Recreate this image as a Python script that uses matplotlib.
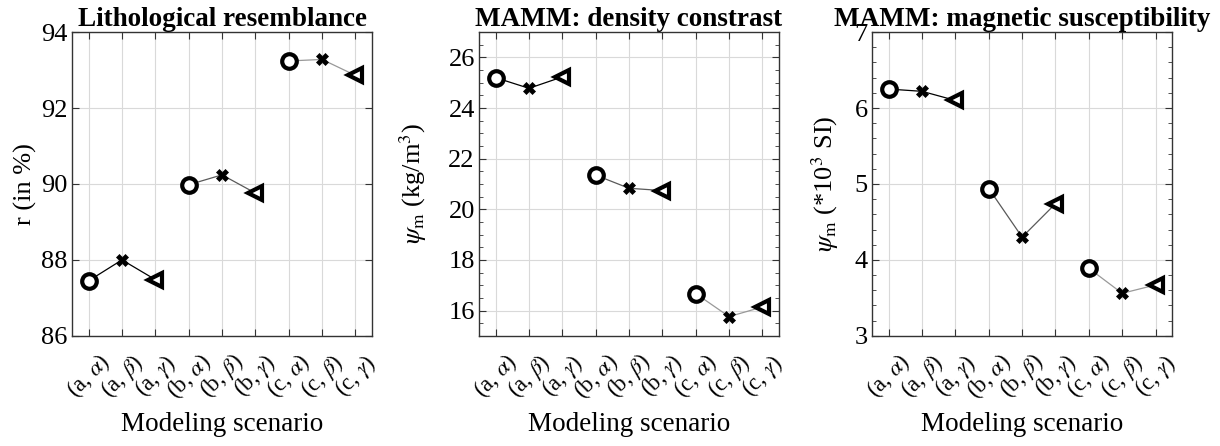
import matplotlib
matplotlib.use('Agg')
import matplotlib.pyplot as plt
import matplotlib.transforms as mtransforms
import numpy as np

plt.rcParams['font.family'] = ['Liberation Serif', 'DejaVu Serif']
plt.rcParams['mathtext.fontset'] = 'stix'

scenarios = [r'(a, $\alpha$)', r'(a, $\beta$)', r'(a, $\gamma$)',
             r'(b, $\alpha$)', r'(b, $\beta$)', r'(b, $\gamma$)',
             r'(c, $\alpha$)', r'(c, $\beta$)', r'(c, $\gamma$)']

resemblance = [87.45, 88.0, 87.48, 89.98, 90.24, 89.76, 93.24, 93.28, 92.86]
density = [25.2, 24.78, 25.23, 21.35, 20.83, 20.74, 16.67, 15.76, 16.14]
suscept = [6.25, 6.22, 6.1, 4.94, 4.3, 4.74, 3.89, 3.56, 3.67]

titles = ['Lithological resemblance', 'MAMM: density constrast',
          'MAMM: magnetic susceptibility']
ylabels = ['r (in %)', r'$\psi_{\rm m}$ (kg/m$^3$)', r'$\psi_{\rm m}$ (*10$^3$ SI)']
ylims = [(86, 94), (15, 27), (3, 7)]
yticks = [np.arange(86, 95, 2), np.arange(16, 27, 2), np.arange(3, 8, 1)]
minor = [None, 0.5, 0.2]
ylabelpads = [3, 14, 10]

markers = ['o', 'X', '<']
group_colors = ['k', '0.35', '0.6']

fig = plt.figure(figsize=(12.2, 4.46), dpi=100)
lefts = [0.059, 0.3926, 0.7148]
x = np.arange(1, 10)
shift = mtransforms.ScaledTranslation(-7 / 100, 0, fig.dpi_scale_trans)

for i, vals in enumerate([resemblance, density, suscept]):
    ax = fig.add_axes([lefts[i], 0.247, 0.246, 0.681])
    for g in range(3):
        xs = x[g*3:g*3+3]
        ys = vals[g*3:g*3+3]
        ax.plot(xs, ys, '-', color=group_colors[g], lw=0.9, zorder=2)
        for k in range(3):
            m = markers[k]
            if m == 'X':
                ax.plot(xs[k], ys[k], marker='X', ms=8, color='k',
                        mec='k', mew=0.5, zorder=3)
            else:
                ax.plot(xs[k], ys[k], marker=m, ms=10.5, mfc='white',
                        mec='k', mew=3, zorder=3)
    ax.set_xlim(0.5, 9.5)
    ax.set_ylim(*ylims[i])
    ax.set_yticks(yticks[i])
    ax.set_xticks(x)
    ax.set_xticklabels(scenarios, rotation=45, ha='center', va='center',
                       rotation_mode='anchor', fontsize=16.5)
    for lbl in ax.get_xticklabels():
        lbl.set_transform(lbl.get_transform() + shift)
    if minor[i] is not None:
        ax.set_yticks(np.arange(ylims[i][0], ylims[i][1] + 1e-9, minor[i]), minor=True)
    ax.tick_params(axis='both', which='both', direction='in', top=True, right=True,
                   color='0.2')
    ax.tick_params(axis='y', which='major', labelsize=19, length=5, pad=3)
    ax.tick_params(axis='y', which='minor', length=3)
    ax.tick_params(axis='x', which='major', length=5, pad=29)
    ax.grid(True, color='0.85', lw=0.8)
    ax.set_axisbelow(True)
    for s in ax.spines.values():
        s.set_color('0.2')
        s.set_linewidth(1.0)
    ax.set_title(titles[i], fontsize=19.5, fontweight='bold', pad=1)
    ax.set_ylabel(ylabels[i], fontsize=19, labelpad=ylabelpads[i])
    ax.set_xlabel('Modeling scenario', fontsize=19.5, labelpad=6)

fig.savefig('out.png', dpi=100)
